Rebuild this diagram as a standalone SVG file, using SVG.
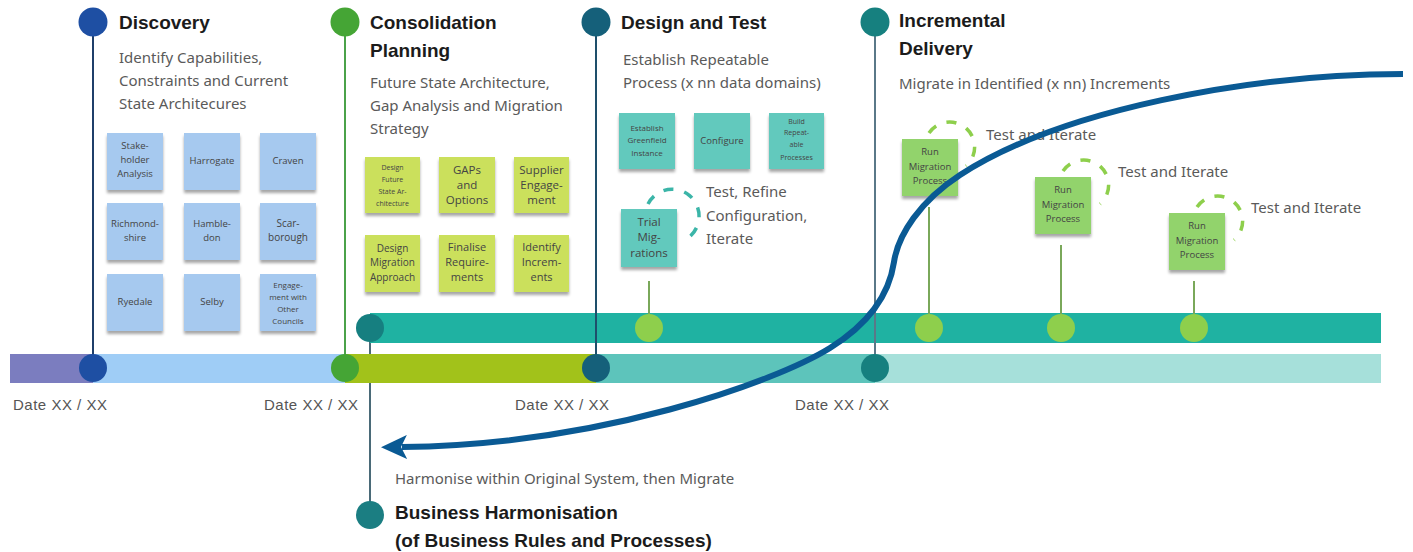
<svg xmlns="http://www.w3.org/2000/svg" width="1413" height="552" viewBox="0 0 1413 552">
<style>
.title{font-family:"Liberation Sans",Arial,sans-serif;font-weight:bold;font-size:19px;fill:#1b1b1b}
.desc{font-family:"Noto Sans","Liberation Sans",sans-serif;font-size:15px;fill:#5a5a5a}
.date{font-family:"Liberation Sans",Arial,sans-serif;font-size:15px;fill:#555}
.note text{font-family:"Open Sans","Liberation Sans",sans-serif;fill:#444;text-anchor:middle}
.note rect{filter:url(#sh)}
.blue rect{fill:#a6c9ef}
.lime rect{fill:#cbe05c}
.teal rect{fill:#62c9bd}
.green rect{fill:#92d36c}
.vline{stroke-width:2;fill:none}
.stem{stroke:#7aa85a;stroke-width:2}
.loopT{fill:none;stroke:#3bb5a8;stroke-width:3.5;stroke-dasharray:10 11}
.loopG{fill:none;stroke:#8ecf4c;stroke-width:3.5;stroke-dasharray:10 11}
</style>
<defs>
<filter id="sh" x="-10%" y="-10%" width="120%" height="130%">
<feDropShadow dx="0" dy="3" stdDeviation="1.5" flood-color="#000" flood-opacity="0.35"/>
</filter>
<marker id="ah" viewBox="0 0 26 24" markerWidth="26" markerHeight="24" refX="5" refY="12" orient="auto" markerUnits="userSpaceOnUse">
<path d="M0,0 L26,12 L0,24 L6,12 z" fill="#0a5a94"/>
</marker>
</defs>
<rect width="1413" height="552" fill="#ffffff"/>

<g id="connectors-under">
<line x1="370" y1="330" x2="370" y2="502" stroke="#4a6a78" stroke-width="2"/>
</g>

<g id="timeline">
<rect x="10" y="354" width="83" height="29" fill="#7b7dbf"/>
<rect x="93" y="354" width="252" height="29" fill="#9fcdf6"/>
<rect x="345" y="354" width="251" height="29" fill="#a2c21a"/>
<rect x="596" y="354" width="279" height="29" fill="#5dc4bb"/>
<rect x="875" y="354" width="506" height="29" fill="#a6e0da"/>
<rect x="370" y="313" width="1011" height="30" fill="#1fb2a2"/>
<circle cx="370" cy="328" r="14" fill="#167f80"/>
<circle cx="649" cy="328" r="14" fill="#8ecf4c"/>
<circle cx="929" cy="328" r="14" fill="#8ecf4c"/>
<circle cx="1061" cy="328" r="14" fill="#8ecf4c"/>
<circle cx="1194" cy="328" r="14" fill="#8ecf4c"/>
<text class="date" x="13" y="410" textLength="94">Date XX / XX</text>
<text class="date" x="264" y="410" textLength="94">Date XX / XX</text>
<text class="date" x="515" y="410" textLength="94">Date XX / XX</text>
<text class="date" x="795" y="410" textLength="94">Date XX / XX</text>
</g>

<g id="connectors">
<line class="vline" x1="93" y1="36" x2="93" y2="368" stroke="#1f3f6a"/>
<line class="vline" x1="345" y1="36" x2="345" y2="368" stroke="#4ba24a"/>
<line class="vline" x1="596" y1="36" x2="596" y2="368" stroke="#1e4f6b"/>
<line class="vline" x1="875" y1="36" x2="875" y2="368" stroke="#5a7888"/>
<line class="stem" x1="649" y1="281" x2="649" y2="314"/>
<line class="stem" x1="929" y1="207" x2="929" y2="314"/>
<line class="stem" x1="1061" y1="245" x2="1061" y2="314"/>
<line class="stem" x1="1194" y1="281" x2="1194" y2="314"/>
<path class="loopT" d="M648,204 A27,27 0 1 1 688,238"/>
<path class="loopG" d="M929,133 A25,25 0 1 1 966,166"/>
<path class="loopG" d="M1063,171 A25,25 0 1 1 1100,204"/>
<path class="loopG" d="M1197,207 A25,25 0 1 1 1234,240"/>
</g>

<g id="node-discovery">
<circle cx="93" cy="22" r="14.5" fill="#1e4fa3"/>
<circle cx="93" cy="368" r="14" fill="#1e4fa3"/>
<text class="title" x="119" y="29">Discovery</text>
<text class="desc"><tspan x="119" y="63">Identify Capabilities,</tspan><tspan x="119" y="86">Constraints and Current</tspan><tspan x="119" y="109">State Architecures</tspan></text>
</g>
<g id="notes-discovery">
<g id="note-stakeholder" class="note blue"><rect x="107" y="133" width="56" height="57"/><text font-size="9.5"><tspan x="135" y="149">Stake-</tspan><tspan x="135" y="163">holder</tspan><tspan x="135" y="177">Analysis</tspan></text></g>
<g id="note-harrogate" class="note blue"><rect x="184" y="133" width="56" height="57"/><text font-size="9.5" x="212" y="164">Harrogate</text></g>
<g id="note-craven" class="note blue"><rect x="260" y="133" width="56" height="57"/><text font-size="9.5" x="288" y="164">Craven</text></g>
<g id="note-richmondshire" class="note blue"><rect x="107" y="203" width="56" height="57"/><text font-size="9.5"><tspan x="135" y="227">Richmond-</tspan><tspan x="135" y="241">shire</tspan></text></g>
<g id="note-hambledon" class="note blue"><rect x="184" y="203" width="56" height="57"/><text font-size="9.5"><tspan x="212" y="227">Hamble-</tspan><tspan x="212" y="241">don</tspan></text></g>
<g id="note-scarborough" class="note blue"><rect x="260" y="203" width="56" height="57"/><text font-size="10"><tspan x="288" y="227">Scar-</tspan><tspan x="288" y="241">borough</tspan></text></g>
<g id="note-ryedale" class="note blue"><rect x="107" y="274" width="56" height="57"/><text font-size="9.5" x="135" y="305">Ryedale</text></g>
<g id="note-selby" class="note blue"><rect x="184" y="274" width="56" height="57"/><text font-size="9.5" x="212" y="305">Selby</text></g>
<g id="note-councils" class="note blue"><rect x="260" y="274" width="56" height="57"/><text font-size="8"><tspan x="288" y="288">Engage-</tspan><tspan x="288" y="300">ment with</tspan><tspan x="288" y="312">Other</tspan><tspan x="288" y="324">Councils</tspan></text></g>
</g>

<g id="node-consolidation">
<circle cx="345" cy="22" r="14.5" fill="#45a535"/>
<circle cx="345" cy="368" r="14" fill="#45a535"/>
<text class="title"><tspan x="370" y="29">Consolidation</tspan><tspan x="370" y="57">Planning</tspan></text>
<text class="desc"><tspan x="370" y="88">Future State Architecture,</tspan><tspan x="370" y="111">Gap Analysis and Migration</tspan><tspan x="370" y="134">Strategy</tspan></text>
</g>
<g id="notes-consolidation">
<g id="note-design-future" class="note lime"><rect x="365" y="157" width="55" height="56"/><text font-size="7"><tspan x="392.5" y="170">Design</tspan><tspan x="392.5" y="182">Future</tspan><tspan x="392.5" y="194">State Ar-</tspan><tspan x="392.5" y="206">chitecture</tspan></text></g>
<g id="note-gaps" class="note lime"><rect x="439" y="157" width="56" height="56"/><text font-size="11.5"><tspan x="467" y="174">GAPs</tspan><tspan x="467" y="189">and</tspan><tspan x="467" y="204">Options</tspan></text></g>
<g id="note-supplier" class="note lime"><rect x="514" y="157" width="55" height="56"/><text font-size="11.5"><tspan x="541.5" y="174">Supplier</tspan><tspan x="541.5" y="189">Engage-</tspan><tspan x="541.5" y="204">ment</tspan></text></g>
<g id="note-design-migration" class="note lime"><rect x="365" y="235" width="55" height="57"/><text font-size="10"><tspan x="392.5" y="251.5">Design</tspan><tspan x="392.5" y="266">Migration</tspan><tspan x="392.5" y="280.5">Approach</tspan></text></g>
<g id="note-finalise" class="note lime"><rect x="439" y="235" width="56" height="57"/><text font-size="11"><tspan x="467" y="251">Finalise</tspan><tspan x="467" y="266">Require-</tspan><tspan x="467" y="281">ments</tspan></text></g>
<g id="note-identify" class="note lime"><rect x="514" y="235" width="55" height="57"/><text font-size="11"><tspan x="541.5" y="251">Identify</tspan><tspan x="541.5" y="266">Increm-</tspan><tspan x="541.5" y="281">ents</tspan></text></g>
</g>

<g id="node-design">
<circle cx="596" cy="22" r="14.5" fill="#15607a"/>
<circle cx="596" cy="368" r="14" fill="#15607a"/>
<text class="title" x="621" y="29">Design and Test</text>
<text class="desc"><tspan x="623" y="65">Establish Repeatable</tspan><tspan x="623" y="88">Process (x nn data domains)</tspan></text>
<text class="desc"><tspan x="706" y="197">Test, Refine</tspan><tspan x="706" y="221">Configuration,</tspan><tspan x="706" y="244">Iterate</tspan></text>
</g>
<g id="notes-design">
<g id="note-greenfield" class="note teal"><rect x="619" y="113" width="56" height="56"/><text font-size="8"><tspan x="647" y="131">Establish</tspan><tspan x="647" y="143">Greenfield</tspan><tspan x="647" y="156">Instance</tspan></text></g>
<g id="note-configure" class="note teal"><rect x="694" y="113" width="56" height="56"/><text font-size="9.5" x="722" y="144">Configure</text></g>
<g id="note-build" class="note teal"><rect x="769" y="113" width="55" height="56"/><text font-size="7"><tspan x="796.5" y="123.5">Build</tspan><tspan x="796.5" y="135">Repeat-</tspan><tspan x="796.5" y="147">able</tspan><tspan x="796.5" y="159.5">Processes</tspan></text></g>
<g id="note-trial" class="note teal"><rect x="621" y="209" width="56" height="58"/><text font-size="11.5"><tspan x="649" y="226">Trial</tspan><tspan x="649" y="241">Mig-</tspan><tspan x="649" y="257">rations</tspan></text></g>
</g>

<g id="node-incremental">
<circle cx="875" cy="22" r="14.5" fill="#16807f"/>
<circle cx="875" cy="368" r="14" fill="#16807f"/>
<text class="title" font-size="20"><tspan x="899" y="27">Incremental</tspan><tspan x="899" y="55">Delivery</tspan></text>
<text class="desc" x="899" y="89">Migrate in Identified (x nn) Increments</text>
<text class="desc" x="986" y="140">Test and Iterate</text>
<text class="desc" x="1118" y="177">Test and Iterate</text>
<text class="desc" x="1251" y="213">Test and Iterate</text>
</g>
<g id="notes-incremental">
<g id="note-run1" class="note green"><rect x="902" y="139" width="56" height="57"/><text font-size="9.5"><tspan x="930" y="155">Run</tspan><tspan x="930" y="170">Migration</tspan><tspan x="930" y="184">Process</tspan></text></g>
<g id="note-run2" class="note green"><rect x="1035" y="177" width="56" height="57"/><text font-size="9.5"><tspan x="1063" y="193">Run</tspan><tspan x="1063" y="208">Migration</tspan><tspan x="1063" y="222">Process</tspan></text></g>
<g id="note-run3" class="note green"><rect x="1169" y="213" width="56" height="57"/><text font-size="9.5"><tspan x="1197" y="229">Run</tspan><tspan x="1197" y="244">Migration</tspan><tspan x="1197" y="258">Process</tspan></text></g>
</g>

<g id="node-harmonisation">
<circle cx="370" cy="515" r="14" fill="#1b7e82"/>
<text class="desc" x="395" y="484">Harmonise within Original System, then Migrate</text>
<text class="title" font-size="18"><tspan x="395" y="519">Business Harmonisation</tspan><tspan x="395" y="547">(of Business Rules and Processes)</tspan></text>
</g>

<g id="connector-arrow">
<path d="M1403,74 C1250,74 1060,110 960,175 C920,201 898,235 894,262 C890,289 875,320 830,348 C775,382 600,445 402,447" fill="none" stroke="#0a5a94" stroke-width="6" marker-end="url(#ah)"/>
</g>
</svg>
